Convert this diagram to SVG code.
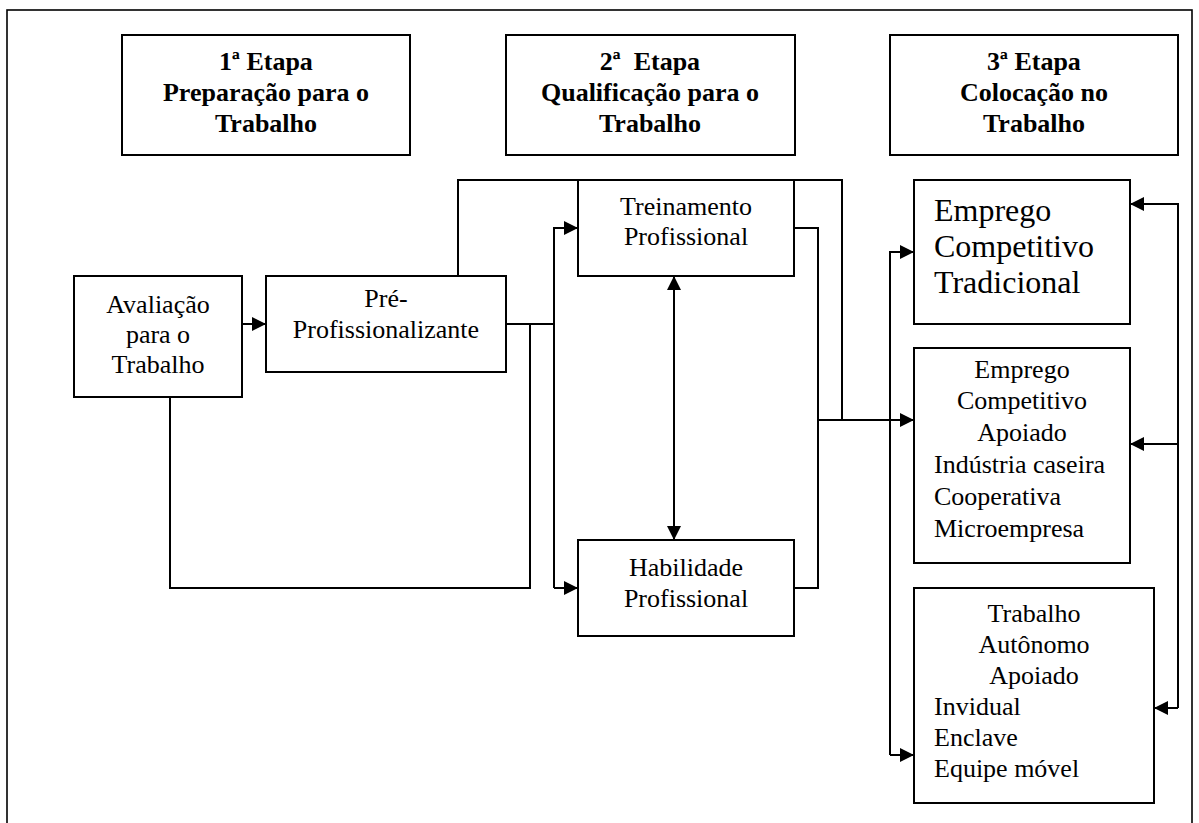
<svg xmlns="http://www.w3.org/2000/svg" width="1199" height="823" viewBox="0 0 1199 823">
<style>
.box{fill:#fff;stroke:#000;stroke-width:2}
.ln{fill:none;stroke:#000;stroke-width:2}
.h{font-family:"Liberation Serif","Times New Roman",serif;font-weight:bold;font-size:26px;fill:#000;text-anchor:middle}
.t{font-family:"Liberation Serif","Times New Roman",serif;font-size:26px;fill:#000;text-anchor:middle}
.tl{font-family:"Liberation Serif","Times New Roman",serif;font-size:26px;fill:#000}
.big{font-family:"Liberation Serif","Times New Roman",serif;font-size:32px;fill:#000}
</style>
<defs>
<marker id="ah" markerUnits="userSpaceOnUse" markerWidth="14" markerHeight="14" refX="14" refY="7" orient="auto-start-reverse" viewBox="0 0 14 14">
<path d="M0,0 L14,7 L0,14 z" fill="#000"/>
</marker>
</defs>
<rect x="0" y="0" width="1199" height="823" fill="#fff"/>
<rect id="frame" x="7" y="10" width="1185" height="840" fill="none" stroke="#000" stroke-width="1.6"/>

<g id="connectors">
<path class="ln" d="M242,324 L266,324" marker-end="url(#ah)"/>
<path class="ln" d="M506,324 L554,324"/>
<path class="ln" d="M554,588 L554,228 L578,228" marker-end="url(#ah)"/>
<path class="ln" d="M554,588 L578,588" marker-end="url(#ah)"/>
<path class="ln" d="M170,397 L170,588 L530,588 L530,324"/>
<path class="ln" d="M458,276 L458,180 L842,180 L842,420"/>
<path class="ln" d="M794,228 L818,228 L818,588 L794,588"/>
<path class="ln" d="M818,420 L914,420" marker-end="url(#ah)"/>
<path class="ln" d="M890,755 L890,252 L914,252" marker-end="url(#ah)"/>
<path class="ln" d="M890,755 L914,755" marker-end="url(#ah)"/>
<path class="ln" d="M674,276 L674,540" marker-start="url(#ah)" marker-end="url(#ah)"/>
<path class="ln" d="M1178,708 L1178,204 L1130,204" marker-end="url(#ah)"/>
<path class="ln" d="M1178,444 L1130,444" marker-end="url(#ah)"/>
<path class="ln" d="M1178,708 L1154,708" marker-end="url(#ah)"/>
</g>

<g id="etapa1">
<rect class="box" x="122" y="35" width="288" height="120"/>
<text class="h" x="266" y="70">1ª Etapa</text>
<text class="h" x="266" y="101">Preparação para o</text>
<text class="h" x="266" y="132">Trabalho</text>
</g>
<g id="etapa2">
<rect class="box" x="506" y="35" width="289" height="120"/>
<text class="h" x="650" y="70" xml:space="preserve">2ª  Etapa</text>
<text class="h" x="650" y="101">Qualificação para o</text>
<text class="h" x="650" y="132">Trabalho</text>
</g>
<g id="etapa3">
<rect class="box" x="890" y="35" width="288" height="120"/>
<text class="h" x="1034" y="70">3ª Etapa</text>
<text class="h" x="1034" y="101">Colocação no</text>
<text class="h" x="1034" y="132">Trabalho</text>
</g>

<g id="avaliacao">
<rect class="box" x="74" y="276" width="168" height="121"/>
<text class="t" x="158" y="313">Avaliação</text>
<text class="t" x="158" y="343">para o</text>
<text class="t" x="158" y="373">Trabalho</text>
</g>
<g id="pre">
<rect class="box" x="266" y="276" width="240" height="96"/>
<text class="t" x="386" y="307">Pré-</text>
<text class="t" x="386" y="338">Profissionalizante</text>
</g>
<g id="treinamento">
<rect class="box" x="578" y="180" width="216" height="96"/>
<text class="t" x="686" y="215">Treinamento</text>
<text class="t" x="686" y="245">Profissional</text>
</g>
<g id="habilidade">
<rect class="box" x="578" y="540" width="216" height="96"/>
<text class="t" x="686" y="576">Habilidade</text>
<text class="t" x="686" y="607">Profissional</text>
</g>
<g id="emprego-tradicional">
<rect class="box" x="914" y="180" width="216" height="144"/>
<text class="big" x="934" y="221">Emprego</text>
<text class="big" x="934" y="257">Competitivo</text>
<text class="big" x="934" y="293">Tradicional</text>
</g>
<g id="emprego-apoiado">
<rect class="box" x="914" y="348" width="216" height="215"/>
<text class="t" x="1022" y="378">Emprego</text>
<text class="t" x="1022" y="409">Competitivo</text>
<text class="t" x="1022" y="441">Apoiado</text>
<text class="tl" x="934" y="473">Indústria caseira</text>
<text class="tl" x="934" y="505">Cooperativa</text>
<text class="tl" x="934" y="537">Microempresa</text>
</g>
<g id="trabalho-autonomo">
<rect class="box" x="914" y="588" width="240" height="215"/>
<text class="t" x="1034" y="622">Trabalho</text>
<text class="t" x="1034" y="653">Autônomo</text>
<text class="t" x="1034" y="684">Apoiado</text>
<text class="tl" x="934" y="715">Invidual</text>
<text class="tl" x="934" y="746">Enclave</text>
<text class="tl" x="934" y="777">Equipe móvel</text>
</g>
</svg>
